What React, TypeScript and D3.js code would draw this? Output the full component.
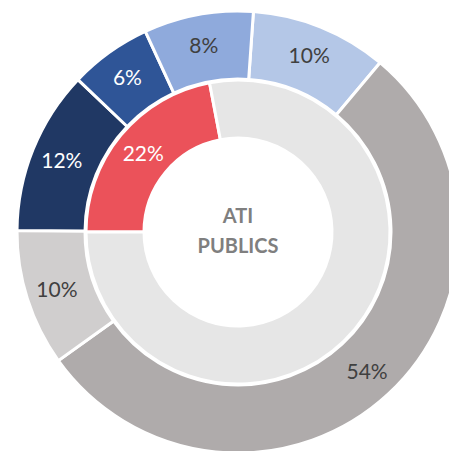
import * as d3 from 'd3'

const outerLabels = ['A', 'B', 'C', 'D', 'E', 'F']
const outerValues = [10, 54, 10, 12, 6, 8]
const outerColors = ['#B4C7E7', '#AFABAB', '#D0CECE', '#203864', '#2F5597', '#8FAADC']
const outerText = ['#404040', '#404040', '#404040', '#ffffff', '#ffffff', '#404040']

const innerLabels = ['ATI', 'Autres']
const innerValues = [22, 78]
const innerColors = ['#EB525A', '#E6E6E6']
const innerText = ['#ffffff', '#404040']

const centerTitle = ['ATI', 'PUBLICS']

export default function App() {
  const width = 449
  const height = 451
  const cx = 238
  const cy = 232
  const deg = Math.PI / 180

  const outerPie = d3.pie<number>().sort(null).value(d => d)
    .startAngle(4 * deg).endAngle(364 * deg)
  const innerPie = d3.pie<number>().sort(null).value(d => d)
    .startAngle(270 * deg).endAngle(630 * deg)

  const outerArc = d3.arc<d3.PieArcDatum<number>>().innerRadius(153).outerRadius(221)
  const innerArc = d3.arc<d3.PieArcDatum<number>>().innerRadius(94).outerRadius(152)
  // label positions sit a little outside the geometric centroid
  const outerLabelArc = d3.arc<d3.PieArcDatum<number>>().innerRadius(190).outerRadius(190)

  const outerArcs = outerPie(outerValues)
  const innerArcs = innerPie(innerValues)

  const font = 'Lato, Calibri, sans-serif'

  return (
    <svg width={width} height={height}
      style={{ position: 'absolute', left: 0, top: 0, background: '#fff' }}>
      <g transform={`translate(${cx},${cy})`}>
        {outerArcs.map((a, i) => (
          <path key={outerLabels[i]} d={outerArc(a) || ''} fill={outerColors[i]}
            stroke="#fff" strokeWidth={3} />
        ))}
        {innerArcs.map((a, i) => (
          <path key={innerLabels[i]} d={innerArc(a) || ''} fill={innerColors[i]}
            stroke="#fff" strokeWidth={3} />
        ))}
        {outerArcs.map((a, i) => {
          const [x, y] = outerLabelArc.centroid(a)
          return (
            <text key={'t' + i} x={x} y={y} dy="0.36em" textAnchor="middle"
              fontFamily={font} fontSize={21} fill={outerText[i]}>
              {outerValues[i]}%
            </text>
          )
        })}
        {innerArcs.map((a, i) => {
          if (i !== 0) return null
          const [x, y] = innerArc.centroid(a)
          return (
            <text key={'it' + i} x={x} y={y} dy="0.36em" textAnchor="middle"
              fontFamily={font} fontSize={21} fill={innerText[i]}>
              {innerValues[i]}%
            </text>
          )
        })}
        {centerTitle.map((t, i) => (
          <text key={t} x={0} y={-9 + i * 30} textAnchor="middle"
            fontFamily={font} fontWeight="bold" fontSize={20} fill="#7F7F7F">
            {t}
          </text>
        ))}
      </g>
    </svg>
  )
}
